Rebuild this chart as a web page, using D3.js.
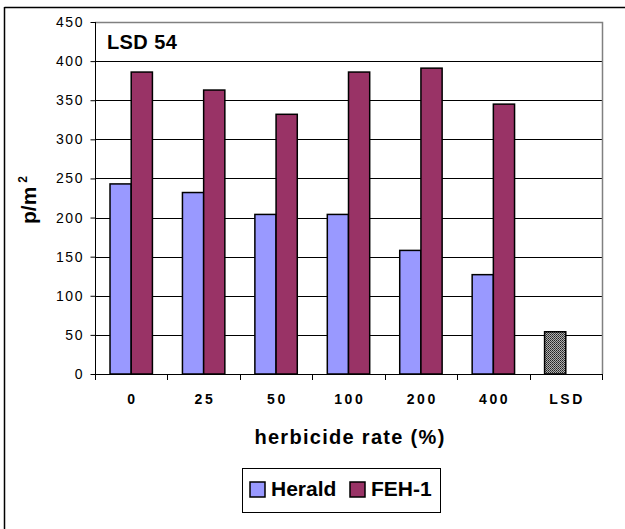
<!DOCTYPE html>
<html><head><meta charset="utf-8">
<script src="https://cdn.jsdelivr.net/npm/d3@7"></script>
<style>body{margin:0;background:#fff}svg{display:block;font-family:"Liberation Sans",Arial,sans-serif}</style>
</head><body><svg id="c" width="625" height="529"></svg>
<script>
const categories = ["0","25","50","100","200","400","LSD"];
const herald = [243, 232, 204, 204, 158, 127];
const feh = [386, 363, 332, 386, 391, 345];
const yTicks = [0,50,100,150,200,250,300,350,400,450];
const seriesNames = ["Herald","FEH-1"];
const colors = ["#9999FF","#993366"];
const lsdValue = 54;

const svg = d3.select("#c");
const L=95,R=602,T=22,B=374;
const x = d3.scaleBand().domain(categories).range([L,R]).paddingInner(0).paddingOuter(0);
const y = d3.scaleLinear().domain([0,450]).range([B,T]);

const defs = svg.append("defs");
const pat = defs.append("pattern").attr("id","hatch").attr("patternUnits","userSpaceOnUse").attr("width",2).attr("height",2);
pat.append("rect").attr("width",2).attr("height",2).attr("fill","#b0b0b0");
pat.append("rect").attr("width",1).attr("height",1).attr("fill","#222");
pat.append("rect").attr("x",1).attr("y",1).attr("width",1).attr("height",1).attr("fill","#444");

// outer border (top & left)
svg.append("line").attr("x1",4.5).attr("x2",625).attr("y1",7.5).attr("y2",7.5).attr("stroke","#000").attr("stroke-width",1.5);
svg.append("line").attr("x1",4.5).attr("x2",4.5).attr("y1",7).attr("y2",529).attr("stroke","#000").attr("stroke-width",1.5);

// gridlines
svg.append("g").selectAll("line").data(yTicks.filter(d=>d>0 && d<450)).join("line")
  .attr("x1",L).attr("x2",R).attr("y1",d=>Math.round(y(d))+0.5).attr("y2",d=>Math.round(y(d))+0.5)
  .attr("stroke","#000").attr("stroke-width",1);
svg.append("path").attr("d",`M${L},${T+0.5}H${R+0.5}V${B}`).attr("fill","none").attr("stroke","#808080").attr("stroke-width",1.5);

// bars
const bw = 21.2;
const g = svg.append("g");
categories.forEach((c,i)=>{
  const cx = x(c)+x.bandwidth()/2;
  if(c==="LSD"){
    g.append("rect").attr("x",cx-bw).attr("y",y(lsdValue)).attr("width",bw).attr("height",B-y(lsdValue))
      .attr("fill","url(#hatch)").attr("stroke","#000").attr("stroke-width",1.5);
    return;
  }
  [herald[i],feh[i]].forEach((v,j)=>{
    g.append("rect").attr("x",cx-bw+j*bw).attr("y",y(v)).attr("width",bw).attr("height",B-y(v))
      .attr("fill",colors[j]).attr("stroke","#000").attr("stroke-width",1.5);
  });
});

// y axis
const yAxis = d3.axisLeft(y).tickValues(yTicks).tickSize(5).tickPadding(8);
const ya = svg.append("g").attr("transform",`translate(${L+0.5},0)`).call(yAxis);
ya.select(".domain").attr("stroke","#000").attr("d",`M0,${T}V${B}`);
ya.selectAll(".tick line").attr("stroke","#000");
ya.selectAll("text").attr("font-size",14).attr("letter-spacing","1.6px").attr("dx","1.6px").attr("fill","#000").attr("font-family","Liberation Sans, Arial, sans-serif");

// x axis
const xAxis = d3.axisBottom(x).tickSize(0).tickPadding(20);
const xa = svg.append("g").attr("transform",`translate(0,${B+0.5})`).call(xAxis);
xa.select(".domain").attr("stroke","#000").attr("d",`M${L},0H${R+0.5}`);
xa.selectAll("text").attr("font-size",14).attr("font-weight","bold").attr("letter-spacing","2.6px").attr("dx","1.3px").attr("fill","#000").attr("font-family","Liberation Sans, Arial, sans-serif").attr("dy","0.71em");
svg.append("g").selectAll("line").data(categories.map(c=>x(c)).concat([R])).join("line")
  .attr("x1",d=>Math.round(d)+0.5).attr("x2",d=>Math.round(d)+0.5).attr("y1",B).attr("y2",B+6).attr("stroke","#000");

// titles
svg.append("text").attr("x",350).attr("y",444).attr("text-anchor","middle").attr("font-size",20).attr("letter-spacing","1.3px").attr("font-weight","bold").text("herbicide rate (%)");
const yt = svg.append("text").attr("transform","translate(36,200) rotate(-90)").attr("text-anchor","middle").attr("font-size",21).attr("font-weight","bold");
yt.append("tspan").text("p/m");
yt.append("tspan").attr("font-size",12).attr("dy",-9).attr("dx",4).text("2");

svg.append("text").attr("x",107).attr("y",49).attr("font-size",20).attr("letter-spacing","0.4px").attr("font-weight","bold").text("LSD " + lsdValue);

// legend
const lg = svg.append("g");
lg.append("rect").attr("x",242.5).attr("y",468.5).attr("width",198).attr("height",44).attr("fill","#fff").attr("stroke","#000").attr("stroke-width",1);
const legX = [250,350];
seriesNames.forEach((n,j)=>{
  lg.append("rect").attr("x",legX[j]).attr("y",482).attr("width",15).attr("height",15).attr("fill",colors[j]).attr("stroke","#000").attr("stroke-width",1.5);
  lg.append("text").attr("x",legX[j]+21).attr("y",496).attr("font-size",21).attr("font-weight","bold").text(n);
});
</script></body></html>
